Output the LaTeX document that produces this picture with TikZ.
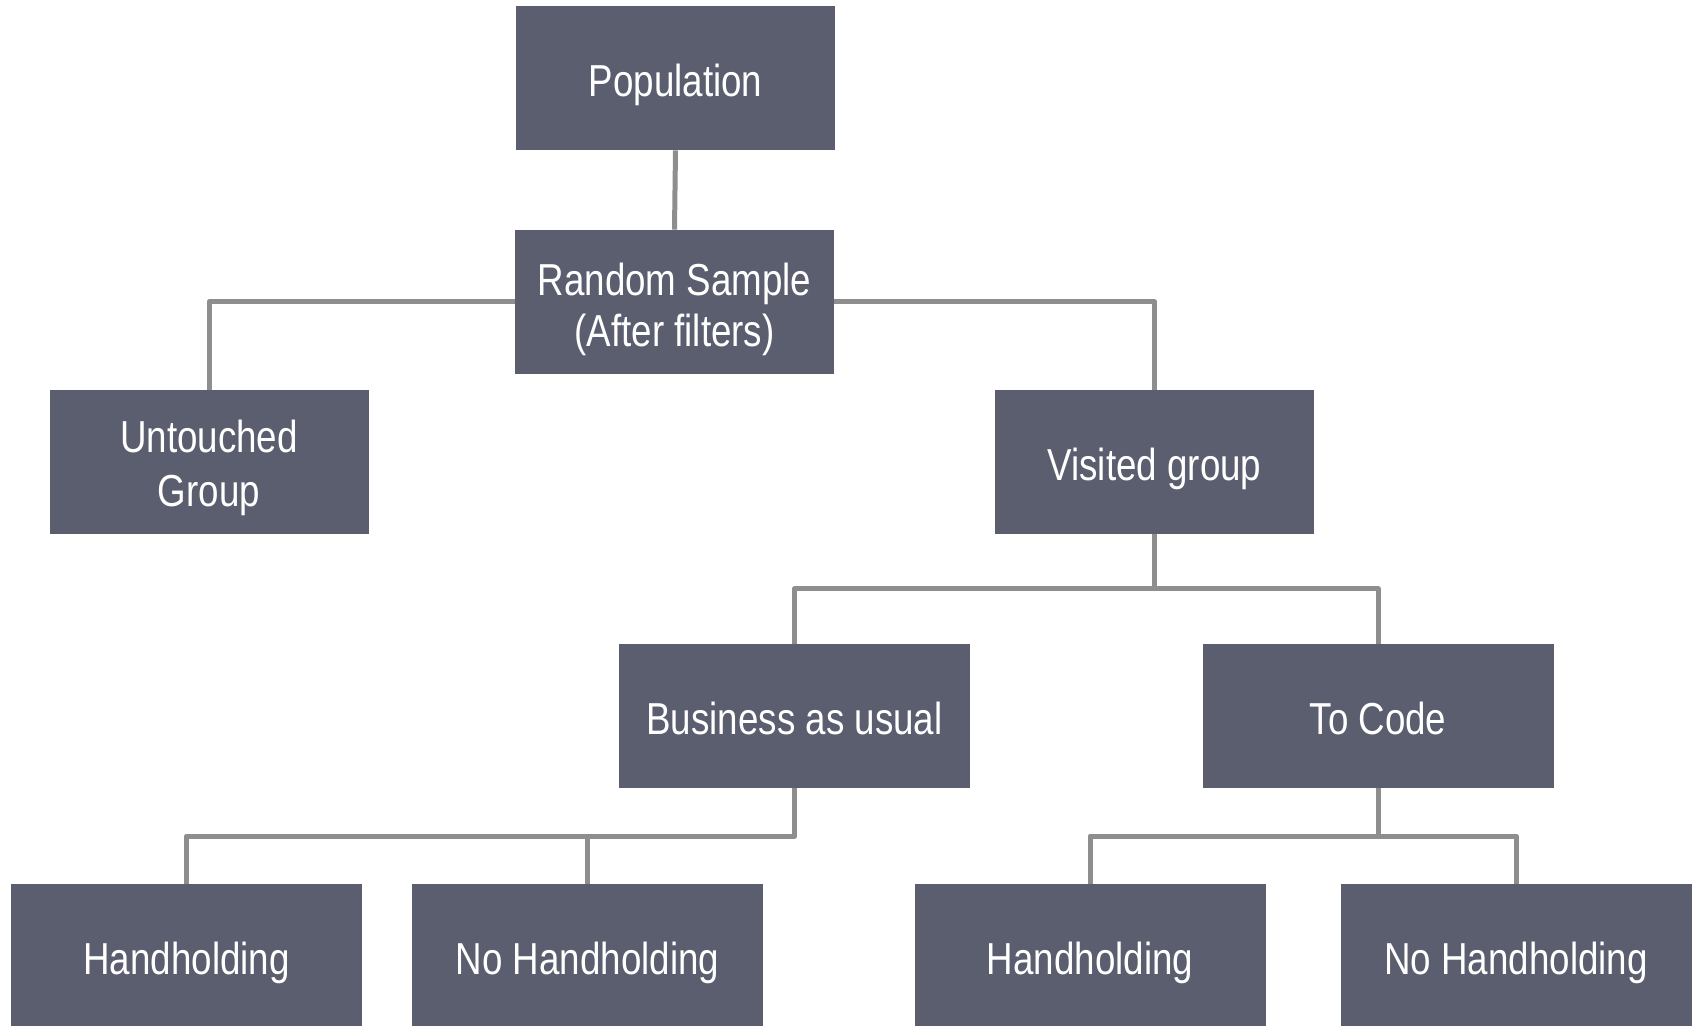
\documentclass[tikz,border=0pt]{standalone}
\usepackage{fontspec}
\setmainfont{Liberation Sans}[FakeStretch=0.82]
\usetikzlibrary{calc}
\definecolor{boxfill}{HTML}{5B5E6F}
\definecolor{linkgray}{HTML}{8E8E8E}
\tikzset{
  grp/.style={fill=boxfill,text=white,minimum height=72pt,inner sep=0pt,align=center,
    font=\fontsize{22.4}{26.6}\selectfont,execute at begin node={\rule[-5.4pt]{0pt}{29.4pt}}},
  twoline/.style={execute at begin node={\rule[-5.4pt]{0pt}{54.9pt}}},
  grpw/.style={grp,minimum width=159.5pt},
  arm/.style={grp,minimum width=175.5pt},
  link/.style={draw=linkgray,line width=2.5pt,line join=round}
}
\begin{document}
\begin{tikzpicture}[x=0.5pt,y=-0.5pt]
\useasboundingbox (0,0) rectangle (1694,1026);
\clip (0,0) rectangle (1694,1026);
% boxes
\node[grpw] (pop) at (675.5,78) {Population};
\node[grpw,twoline] (rs) at (674.5,302) {Random Sample\\[-1.5pt](After filters)};
\node[grpw,twoline] (unt) at (209,462) {Untouched\\Group};
\node[grpw] (vis) at (1154.5,462) {Visited group};
\node[arm] (bau) at (794.5,716) {Business as usual};
\node[arm] (tc) at (1378,716) {To Code};
\foreach \n/\x/\t in {hhA/186.5/Handholding,nhA/587.5/No Handholding,hhB/1090/Handholding,nhB/1516/No Handholding}
  \node[arm] (\n) at (\x,956) {\t};
% connectors
\coordinate (vj) at ($(vis.south)!0.5!(vis.south |- bau.north)$);
\coordinate (bj) at ($(bau.south)!0.5!(bau.south |- hhA.north)$);
\coordinate (tj) at ($(tc.south)!0.5!(tc.south |- hhB.north)$);
\draw[link] (pop.south) -- (rs.north);
\draw[link] (rs.west) -| (unt.north); \draw[link] (rs.east) -| (vis.north);
\draw[link] (vis.south) -- (vj); \draw[link] (bau.north) |- (vj) -| (tc.north);
\draw[link] (bau.south) |- (hhA.north |- bj) -- (hhA.north); \draw[link] (nhA.north) -- (nhA.north |- bj);
\draw[link] (tc.south) -- (tj); \draw[link] (hhB.north) |- (tj) -| (nhB.north);
\end{tikzpicture}
\end{document}
